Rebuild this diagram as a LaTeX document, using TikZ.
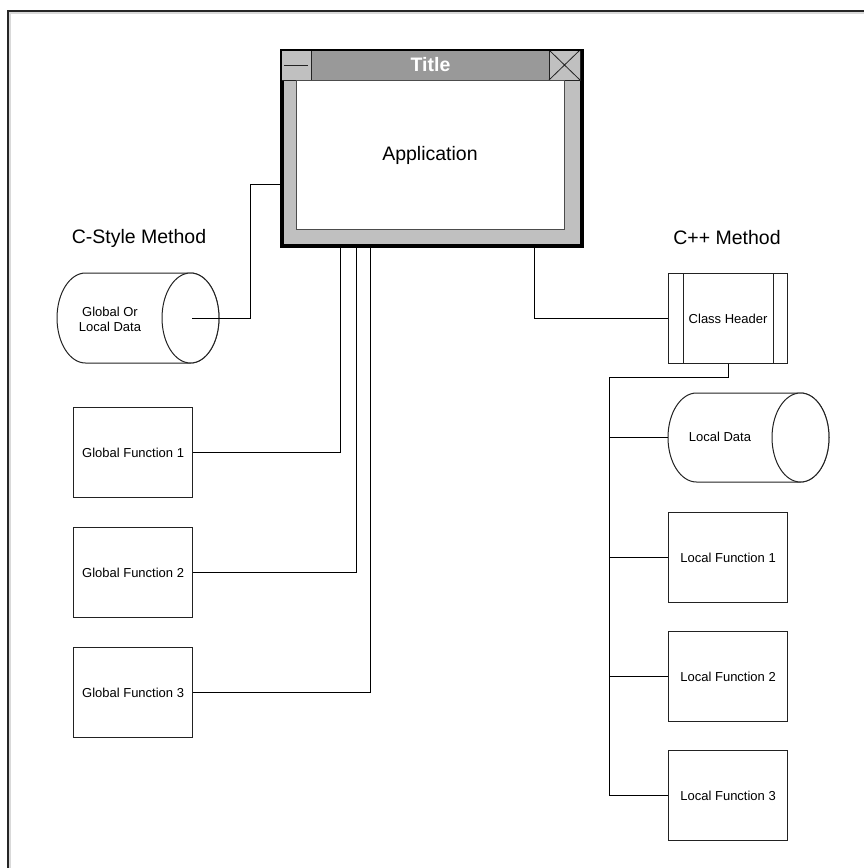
\documentclass[tikz,border=0pt]{standalone}
\usepackage{fontspec}
\setmainfont{Liberation Sans}
\definecolor{winframe}{HTML}{C0C0C0}
\definecolor{titlegrey}{HTML}{999999}
\definecolor{edge}{HTML}{222222}
\begin{document}
\begin{tikzpicture}[x=1pt,y=-1pt,
  smalltext/.style={font=\fontsize{13}{15}\selectfont},
  bigtext/.style={font=\fontsize{19.5}{23}\selectfont},
  fbox/.style={draw=edge, line width=1.2pt, fill=white, minimum width=119pt, minimum height=90pt,
    inner sep=0pt, anchor=north west, smalltext},
  cyl/.style={draw=edge, line width=1pt, fill=white},
  wire/.style={draw=black, line width=1pt},
]
\useasboundingbox (0,0) rectangle (864,868);
\begin{scope}
\clip (0,0) rectangle (864,868);
\draw[black!15, line width=1.5pt] (9.8,900) -- (9.8,12.8) -- (900,12.8);
\draw[black!85, line width=2pt] (8,900) -- (8,11) -- (900,11);
\end{scope}

% ---------- Application window ----------
\node[draw=black, line width=2.5pt, fill=winframe, minimum width=299pt, minimum height=194pt,
  inner sep=0pt, anchor=north west] (app) at (281,50) {};
\fill[titlegrey] (311,50) rectangle (549,80);
\draw[edge, line width=0.8pt, fill=winframe] (281,50) rectangle (311,80);
\draw[edge, line width=0.8pt] (284,65) -- (308,65);
\draw[edge, line width=0.8pt, fill=winframe] (549,50) rectangle (580,80);
\draw[edge, line width=0.8pt] (549,50) -- (580,80) (549,80) -- (580,50);
\draw[black!70, line width=1pt, fill=white] (296,80) rectangle (564,229);
\draw[black, line width=2.5pt] (app.north west) rectangle (app.south east);
\node[bigtext, text=white, font=\fontsize{19.5}{23}\selectfont\bfseries] (title) at (430.5,65) {Title};
\node[bigtext] (appl) at (430,155) {Application};

% ---------- section labels ----------
\node[bigtext] (cstyle) at (139,238) {C-Style Method};
\node[bigtext] (cpp) at (727,238) {C++ Method};

% ---------- global data cylinder ----------
\draw[cyl] (85.5,273) -- (190.5,273) arc (90:-90:28.5pt and 45pt) -- (85.5,363)
  arc (270:90:28.5pt and 45pt) -- cycle;
\draw[cyl] (190.5,318) ellipse [x radius=28.5pt, y radius=45pt];
\node[smalltext, align=center] (gdata) at (110,319) {Global Or\\Local Data};
\coordinate (gdataend) at (192,318);

% ---------- global functions ----------
\node[fbox] (gf1) at (73,407) {};
\node[smalltext] at (gf1.center) {Global Function 1};
\node[fbox] (gf2) at (73,527) {};
\node[smalltext] at (gf2.center) {Global Function 2};
\node[fbox] (gf3) at (73,647) {};
\node[smalltext] at (gf3.center) {Global Function 3};

% ---------- class header ----------
\node[fbox] (ch) at (668,273) {};
\draw[edge, line width=1pt] ([xshift=15.5pt]ch.north west) -- ([xshift=15.5pt]ch.south west);
\draw[edge, line width=1pt] ([xshift=-14.5pt]ch.north east) -- ([xshift=-14.5pt]ch.south east);
\node[smalltext] at (ch.center) {Class Header};

% ---------- local data cylinder ----------
\draw[cyl] (696.5,393) -- (800.5,393) arc (90:-90:28.5pt and 44.5pt) -- (696.5,482)
  arc (270:90:28.5pt and 44.5pt) -- cycle;
\draw[cyl] (800.5,437.5) ellipse [x radius=28.5pt, y radius=44.5pt];
\node[smalltext] (ldata) at (720,437) {Local Data};
\coordinate (ldataw) at (668,437);

% ---------- local functions ----------
\node[fbox] (lf1) at (668,512) {};
\node[smalltext] at (lf1.center) {Local Function 1};
\node[fbox] (lf2) at (668,631) {};
\node[smalltext] at (lf2.center) {Local Function 2};
\node[fbox] (lf3) at (668,750) {};
\node[smalltext] at (lf3.center) {Local Function 3};

% ---------- connectors ----------
\path (app.north west) ++(0,134) coordinate (aw);
\path (app.south west) ++(59,0) coordinate (t1);
\path (app.south west) ++(75,0) coordinate (t2);
\path (app.south west) ++(89,0) coordinate (t3);
\path (app.south west) ++(253,0) coordinate (t4);
\coordinate (bus) at (609,377);

\draw[wire] (aw) -- ++(-31,0) |- (gdataend);
\draw[wire] (t1) |- (gf1.east);
\draw[wire] (t2) |- (gf2.east);
\draw[wire] (t3) |- (gf3.east);
\draw[wire] (t4) |- (ch.west);
\draw[wire] (ch.south) |- (bus) |- (lf3.west);
\draw[wire] (bus |- ldataw) -- (ldataw);
\draw[wire] (bus |- lf1.west) -- (lf1.west);
\draw[wire] (bus |- lf2.west) -- (lf2.west);
\end{tikzpicture}
\end{document}
